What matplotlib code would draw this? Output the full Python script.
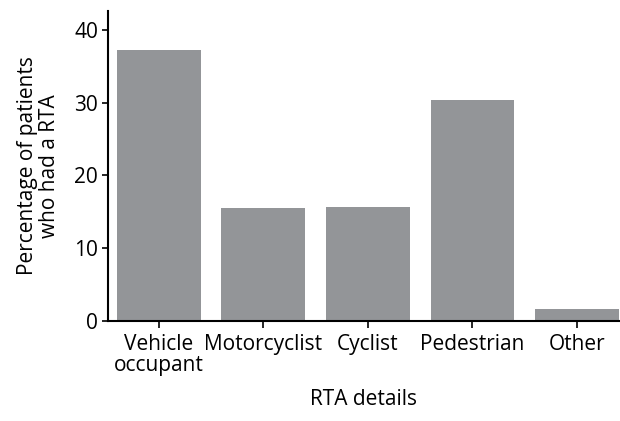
import matplotlib
matplotlib.use("Agg")
import matplotlib.pyplot as plt

categories = ["Vehicle\noccupant", "Motorcyclist", "Cyclist", "Pedestrian", "Other"]
percentages = [37.25, 15.5, 15.7, 30.4, 1.65]

plt.rcParams['font.family'] = ['Open Sans', 'DejaVu Sans']

fig = plt.figure(figsize=(6.2, 4.21), dpi=100)
ax = fig.add_axes([0.174, 0.2375, 0.824, 0.737])

ax.bar(range(len(categories)), percentages, width=0.8, color='#939598')

ax.set_xlim(-0.486, 4.4)
ax.set_ylim(0, 42.6)
ax.set_yticks([0, 10, 20, 30, 40])
ax.set_xticks(range(len(categories)))
ax.set_xticklabels(categories, fontsize=15, linespacing=1.0)
ax.tick_params(axis='y', labelsize=15, direction='out', length=4, width=1.2, pad=3)
ax.tick_params(axis='x', direction='out', length=5, width=1.2, pad=4)

for side in ['top', 'right']:
    ax.spines[side].set_visible(False)
for side in ['left', 'bottom']:
    ax.spines[side].set_linewidth(1.5)

ax.set_ylabel("Percentage of patients\nwho had a RTA", fontsize=15, linespacing=1.1, labelpad=10)
ax.set_xlabel("RTA details", fontsize=15, labelpad=10)

fig.savefig("out.png", dpi=100)
